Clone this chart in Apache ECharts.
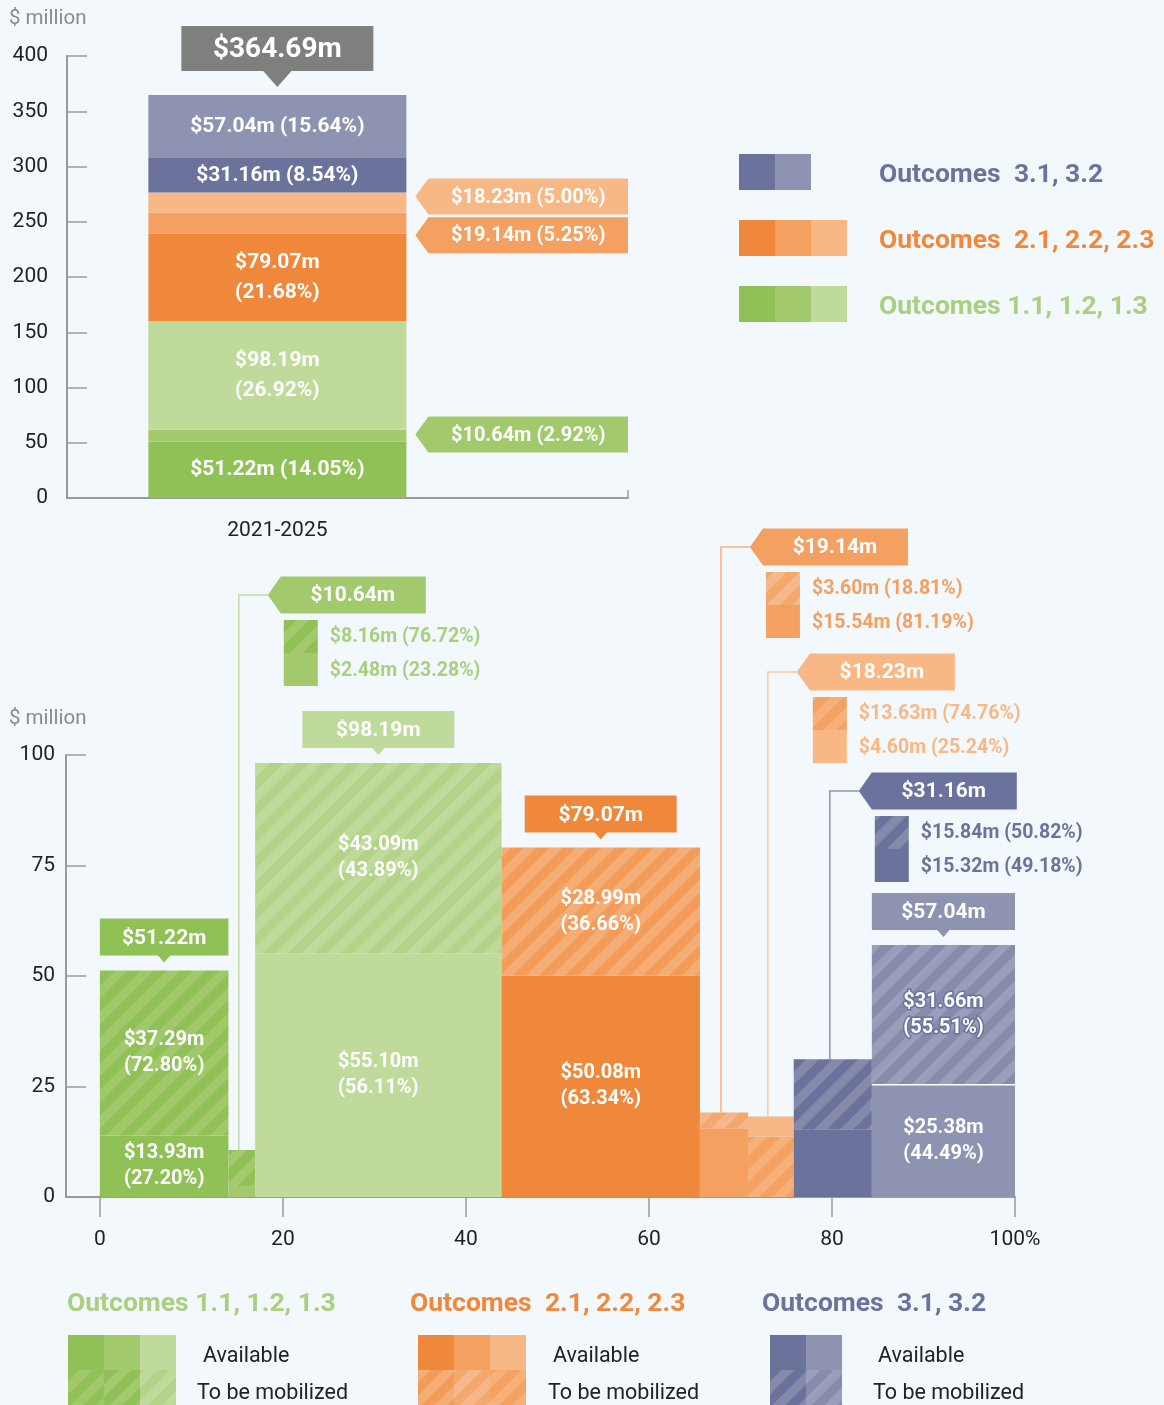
<!DOCTYPE html>
<html>
<head>
<meta charset="utf-8">
<script src="https://cdn.jsdelivr.net/npm/echarts@6/dist/echarts.min.js"></script>
<style>
  html, body { margin: 0; padding: 0; background: #f2f8fc; }
  #chart { width: 1164px; height: 1405px; }
</style>
</head>
<body>
<div id="chart"></div>
<script>
// ---- data ----
var period = '2021-2025';
var grandTotal = 364.69;
var groupNames = ['Outcomes 1.1, 1.2, 1.3', 'Outcomes  2.1, 2.2, 2.3', 'Outcomes  3.1, 3.2'];
var totals = [51.22, 10.64, 98.19, 79.07, 19.14, 18.23, 31.16, 57.04];
var totalShares = [14.05, 2.92, 26.92, 21.68, 5.25, 5.00, 8.54, 15.64];
var available = [13.93, 2.48, 55.10, 50.08, 15.54, 4.60, 15.32, 25.38];
var availableShares = [27.20, 23.28, 56.11, 63.34, 81.19, 25.24, 49.18, 44.49];
var mobilized = [37.29, 8.16, 43.09, 28.99, 3.60, 13.63, 15.84, 31.66];
var mobilizedShares = [72.80, 76.72, 43.89, 36.66, 18.81, 74.76, 50.82, 55.51];
var mekkoTicks = [0, 20, 40, 60, 80, 100];
var legendRows = ['Available', 'To be mobilized'];

// ---- styles ----
var barColors = ['#8fc156', '#a2c96c', '#bfda9a', '#f0883c', '#f4a060', '#f7b886', '#6b739c', '#8e93b1'];
var hatchBase = ['#8fc156', '#a2c96c', '#bfda9a', '#f39b59', '#f3a96e', '#f4a262', '#6b739c', '#878cac'];
var hatchStripe = ['#a1c96b', '#8fc156', '#b2d388', '#f5ad76', '#f6b88a', '#f6b07a', '#858aab', '#9a9ebb'];
var groupColors = ['#a9cf7f', '#f0883c', '#6b739c'];
var groupBars = [[0, 1, 2], [3, 4, 5], [6, 7]];
var calloutTextColors = { 1: '#a9cf7f', 4: '#f4a060', 5: '#f7b886', 6: '#6b739c' };
var leaderColors = { 1: '#c4dda2', 4: '#f6b283', 5: '#f8c9a2', 6: '#8e93b1' };
var mekkoCalloutY = { 1: 595, 4: 547, 5: 672, 6: 791 };
var topCalloutShift = { 1: -1, 4: 12, 5: -6 };
var mobilizedBelow = [false, false, false, false, false, true, false, false];
var FONT = 'Roboto, "Noto Sans", sans-serif';

function hatch(i) {
  var s = 26, c = document.createElement('canvas');
  c.width = s; c.height = s;
  var ctx = c.getContext('2d');
  ctx.fillStyle = hatchBase[i];
  ctx.fillRect(0, 0, s, s);
  ctx.strokeStyle = hatchStripe[i];
  ctx.lineWidth = s / 2 / Math.SQRT2;
  ctx.beginPath();
  for (var k = -1; k <= 1; k++) {
    ctx.moveTo(k * s - 3, s + 3);
    ctx.lineTo(k * s + s + 3, -3);
  }
  ctx.stroke();
  return { image: c, repeat: 'repeat' };
}
var hatchFills = barColors.map(function (c, i) { return hatch(i); });

function money(v) { return '$' + v.toFixed(2) + 'm'; }
function pct(v) { return '(' + v.toFixed(2) + '%)'; }

// stacked positions
var stackBase = [], acc = 0;
totals.forEach(function (v) { stackBase.push(acc); acc += v; });
var xStart = [], xs = 0;
totalShares.forEach(function (s) { xStart.push(xs); xs += s; });

var topData = totals.map(function (v, i) { return [1.5, stackBase[i], stackBase[i] + v, i]; });

var mekkoData = [];
totals.forEach(function (v, i) {
  var x0 = xStart[i], x1 = xStart[i] + totalShares[i];
  if (mobilizedBelow[i]) {
    mekkoData.push([x0, x1, 0, mobilized[i], i, 1]);
    mekkoData.push([x0, x1, mobilized[i], v, i, 0]);
  } else {
    mekkoData.push([x0, x1, 0, available[i], i, 0]);
    mekkoData.push([x0, x1, available[i], v, i, 1]);
  }
});

var axisGray = '#9a9a9a';
function yAxisCfg(grid, max, interval, margin, size) {
  return {
    gridIndex: grid, type: 'value', min: 0, max: max, interval: interval,
    axisLine: { show: true, onZero: false, lineStyle: { color: axisGray, width: 2 } },
    axisTick: { show: true, inside: true, length: 20, lineStyle: { color: axisGray, width: 1.5 } },
    axisLabel: { color: '#222', fontSize: size, margin: margin, fontFamily: FONT },
    splitLine: { show: false }
  };
}

var chart = echarts.init(document.getElementById('chart'));
var option = {
  backgroundColor: '#f2f8fc',
  animation: false,
  textStyle: { fontFamily: FONT },
  grid: [
    { left: 67, top: 56, width: 561, height: 442 },
    { left: 66, top: 755, width: 949, height: 442 }
  ],
  xAxis: [
    {
      gridIndex: 0, type: 'value', min: 0, max: 4,
      axisLine: { show: true, lineStyle: { color: axisGray, width: 2 } },
      axisTick: { show: true, inside: true, length: 8, customValues: [4], lineStyle: { color: axisGray, width: 1.5 } },
      axisLabel: { customValues: [1.5], formatter: function () { return period; }, color: '#222', fontSize: 21, margin: 22, fontFamily: FONT },
      splitLine: { show: false }
    },
    {
      gridIndex: 1, type: 'value', min: -3.7, max: 100,
      axisLine: { show: true, onZero: false, lineStyle: { color: axisGray, width: 2 } },
      axisTick: { show: true, length: 20, customValues: mekkoTicks, lineStyle: { color: axisGray, width: 1.5 } },
      axisLabel: {
        customValues: mekkoTicks, color: '#222', fontSize: 21, margin: 32, fontFamily: FONT,
        formatter: function (v) { return v === 100 ? '100%' : String(v); }
      },
      splitLine: { show: false }
    }
  ],
  yAxis: [
    yAxisCfg(0, 400, 50, 19, 21),
    yAxisCfg(1, 100, 25, 11, 21)
  ],
  series: [
    {
      type: 'custom', xAxisIndex: 0, yAxisIndex: 0, data: topData,
      renderItem: function (params, api) {
        var i = api.value(3);
        var a = api.coord([api.value(0), api.value(2)]);
        var b = api.coord([api.value(0), api.value(1)]);
        var h = b[1] - a[1];
        var el = {
          type: 'rect',
          shape: { x: a[0] - 129, y: a[1], width: 258, height: h },
          style: { fill: barColors[i] }
        };
        if (h > 30) {
          var txt = h > 70 ? money(totals[i]) + '\n' + pct(totalShares[i]) : money(totals[i]) + ' ' + pct(totalShares[i]);
          el.textContent = { style: { text: txt, fill: '#fff', font: 'bold 21px ' + FONT, lineHeight: 30, align: 'center' } };
          el.textConfig = { position: 'inside' };
        }
        return el;
      }
    },
    {
      type: 'custom', xAxisIndex: 1, yAxisIndex: 1, data: mekkoData,
      renderItem: function (params, api) {
        var bar = api.value(4), kind = api.value(5);
        var a = api.coord([api.value(0), api.value(3)]);
        var b = api.coord([api.value(1), api.value(2)]);
        var w = b[0] - a[0];
        var el = {
          type: 'rect',
          shape: { x: a[0], y: a[1], width: w, height: b[1] - a[1] },
          style: { fill: kind ? hatchFills[bar] : barColors[bar] }
        };
        if (w > 100) {
          var v = kind ? mobilized[bar] : available[bar];
          var s = kind ? mobilizedShares[bar] : availableShares[bar];
          var ts = { text: money(v) + '\n' + pct(s), fill: '#fff', font: 'bold 20px ' + FONT, lineHeight: 26, align: 'center' };
          if (kind && bar === 7) { ts.stroke = '#6b739c'; ts.lineWidth = 3; }
          el.textContent = { style: ts };
          el.textConfig = { position: 'inside' };
        }
        return el;
      }
    }
  ]
};
chart.setOption(option);

// ---- annotations placed from the chart's own scales ----
var g = [];
function txt(x, y, text, color, font, align) {
  g.push({ type: 'text', x: x, y: y, z: 20, style: { text: text, fill: color, font: font, align: align || 'left', verticalAlign: 'middle' } });
}
function rect(x, y, w, h, fill) {
  g.push({ type: 'rect', z: 20, shape: { x: x, y: y, width: w, height: h }, style: { fill: fill } });
}
function poly(points, fill) {
  g.push({ type: 'polygon', z: 20, shape: { points: points }, style: { fill: fill } });
}
function arrowBox(tipX, cy, w, h, fill) {
  poly([[tipX, cy], [tipX + 13, cy - h / 2], [tipX + w, cy - h / 2], [tipX + w, cy + h / 2], [tipX + 13, cy + h / 2]], fill);
}

txt(9, 19, '$ million', '#8a8a8a', '20.5px ' + FONT);
txt(9, 719, '$ million', '#8a8a8a', '20.5px ' + FONT);

// top: grand total box
var topPt = chart.convertToPixel({ gridIndex: 0 }, [1.5, grandTotal]);
var cx = topPt[0], by = topPt[1] - 24;
rect(cx - 96, by - 45, 192, 45, '#7f7f7d');
poly([[cx - 15, by - 1], [cx + 15, by - 1], [cx, by + 16]], '#7f7f7d');
txt(cx, by - 21, money(grandTotal), '#fff', 'bold 28px ' + FONT, 'center');

// top: callouts for thin segments
Object.keys(topCalloutShift).forEach(function (k) {
  var i = +k;
  var p = chart.convertToPixel({ gridIndex: 0 }, [1.5, stackBase[i] + totals[i] / 2]);
  var tipX = p[0] + 129 + 9, cy = p[1] + topCalloutShift[i];
  var right = chart.convertToPixel({ gridIndex: 0 }, [4, 0])[0];
  arrowBox(tipX, cy, right - tipX, 36, barColors[i]);
  txt((tipX + 13 + right) / 2, cy + 1, money(totals[i]) + ' ' + pct(totalShares[i]), '#fff', 'bold 20px ' + FONT, 'center');
});

// top legend
[2, 1, 0].forEach(function (gi, row) {
  var y = 154 + row * 66;
  groupBars[gi].forEach(function (bi, j) { rect(739 + j * 36, y, 36, 36, barColors[bi]); });
  txt(879, y + 21, groupNames[gi], groupColors[gi], 'bold 26.5px ' + FONT);
});

// mekko: value boxes above wide bars, callouts for narrow ones
totals.forEach(function (v, i) {
  var pa = chart.convertToPixel({ gridIndex: 1 }, [xStart[i], v]);
  var pb = chart.convertToPixel({ gridIndex: 1 }, [xStart[i] + totalShares[i], 0]);
  var w = pb[0] - pa[0], mx = (pa[0] + pb[0]) / 2, top = pa[1];
  if (w > 100) {
    var bw = Math.min(152, w), bottom = top - 15;
    rect(mx - bw / 2, bottom - 37, bw, 37, barColors[i]);
    poly([[mx - 7, bottom - 1], [mx + 7, bottom - 1], [mx, bottom + 7]], barColors[i]);
    txt(mx, bottom - 17, money(v), '#fff', 'bold 21px ' + FONT, 'center');
    if (i === 7) {
      var sep = chart.convertToPixel({ gridIndex: 1 }, [xStart[i], available[i]]);
      g.push({ type: 'line', z: 15, shape: { x1: pa[0], y1: sep[1], x2: pb[0], y2: sep[1] }, style: { stroke: '#ffffff', lineWidth: 1.5 } });
    }
  } else {
    var cy = mekkoCalloutY[i], lineX = mx - 3, tipX = mx + 26;
    g.push({ type: 'polyline', z: 15, shape: { points: [[tipX, cy], [lineX, cy], [lineX, top]] },
      style: { stroke: leaderColors[i], lineWidth: 1.5, fill: null } });
    arrowBox(tipX, cy, 158, 37, barColors[i]);
    txt(tipX + 85, cy + 1, money(v), '#fff', 'bold 21px ' + FONT, 'center');
    var sx = tipX + 16, sy = cy + 25;
    rect(sx, sy, 34, 33, hatchFills[i]);
    rect(sx, sy + 33, 34, 33, barColors[i]);
    txt(sx + 46, sy + 17, money(mobilized[i]) + ' ' + pct(mobilizedShares[i]), calloutTextColors[i], 'bold 19.5px ' + FONT);
    txt(sx + 46, sy + 51, money(available[i]) + ' ' + pct(availableShares[i]), calloutTextColors[i], 'bold 19.5px ' + FONT);
  }
});

// bottom legend
var legX = [68, 418, 770], legTitleX = [67, 410, 762], legTextX = [[203, 197], [553, 548], [878, 873]];
[0, 1, 2].forEach(function (gi) {
  txt(legTitleX[gi], 1304, groupNames[gi], groupColors[gi], 'bold 26.5px ' + FONT);
  groupBars[gi].forEach(function (bi, j) {
    rect(legX[gi] + j * 36, 1335, 36, 35, barColors[bi]);
    rect(legX[gi] + j * 36, 1370, 36, 35, hatchFills[bi]);
  });
  txt(legTextX[gi][0], 1357, legendRows[0], '#222', '21.5px ' + FONT);
  txt(legTextX[gi][1], 1394, legendRows[1], '#222', '21.5px ' + FONT);
});

chart.setOption({ graphic: g });
</script>
</body>
</html>
